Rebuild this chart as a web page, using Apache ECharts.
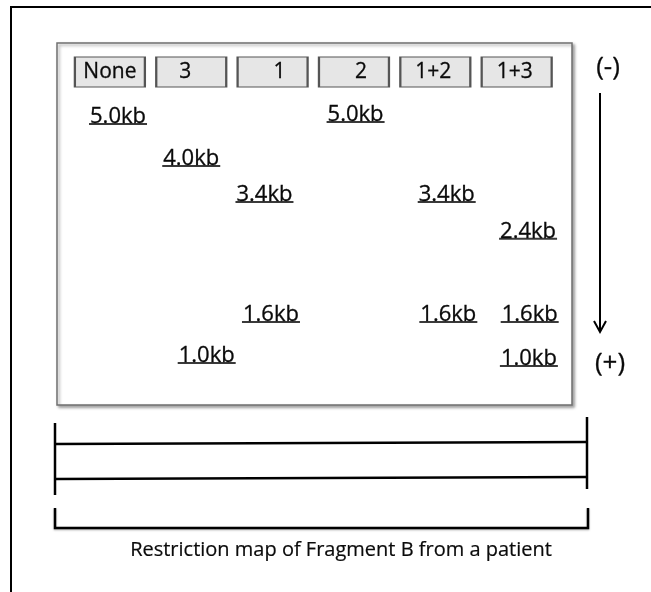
<!DOCTYPE html>
<html>
<head>
<meta charset="utf-8">
<script src="https://cdn.jsdelivr.net/npm/echarts@6/dist/echarts.min.js"></script>
<style>
html,body{margin:0;padding:0;background:#fff;}
#chart{width:651px;height:592px;}
</style>
</head>
<body>
<div id="chart"></div>
<script>
// ---- data ----
const lanes = ['None', '3', '1', '2', '1+2', '1+3'];
const lanePositions = [0, 1, 2, 3, 4, 5];
const wellDepth = 8.0; // migration units (0-100 gel length)
const bandSizes = ['5.0kb', '5.0kb', '4.0kb', '3.4kb', '3.4kb', '2.4kb', '1.6kb', '1.6kb', '1.6kb', '1.0kb', '1.0kb'];
const bandLanePos = [0.10, 3.02, 1.00, 1.90, 4.14, 5.14, 1.98, 4.16, 5.16, 1.19, 5.15];
const bandMigration = [22.4, 21.8, 34.0, 43.9, 43.9, 54.1, 77.1, 77.1, 77.1, 88.4, 89.2];
const caption = 'Restriction map of Fragment B from a patient';
const poleTop = '(-)';
const poleBottom = '(+)';

// ---- styling ----
const FONT = '"Open Sans", sans-serif';
const laneLabelNudge = [0, -6, 7, 7, -2, -2];
const INK = '#0a0a0a';

const chart = echarts.init(document.getElementById('chart'), null, {renderer: 'canvas'});

const laneData = lanes.map((name, i) => ({
  value: [lanePositions[i], wellDepth],
  name: name,
  label: {offset: [laneLabelNudge[i], 0]}
}));

const bandData = bandSizes.map((s, i) => ({
  value: [bandLanePos[i], bandMigration[i]],
  name: s
}));

const option = {
  backgroundColor: '#fff',
  animation: false,
  grid: {
    left: 57, top: 43, width: 515, height: 362,
    show: true,
    backgroundColor: '#fff',
    borderColor: '#707070',
    borderWidth: 1.5,
    shadowColor: 'rgba(0,0,0,0.35)',
    shadowBlur: 3,
    shadowOffsetX: 2,
    shadowOffsetY: 2
  },
  xAxis: {
    type: 'value', min: -0.65, max: 5.68,
    axisLine: {show: false}, axisTick: {show: false},
    axisLabel: {show: false}, splitLine: {show: false}
  },
  yAxis: {
    type: 'value', min: 0, max: 100, inverse: true,
    axisLine: {show: false}, axisTick: {show: false},
    axisLabel: {show: false}, splitLine: {show: false}
  },
  series: [
    {
      type: 'scatter',
      data: laneData,
      symbol: 'rect',
      symbolSize: [70, 30],
      itemStyle: {color: '#e6e6e6', borderColor: '#555', borderWidth: 1.5, opacity: 1},
      label: {
        show: true, position: 'inside',
        formatter: p => p.name,
        fontFamily: FONT, fontSize: 21, color: INK,
        textBorderColor: INK, textBorderWidth: 0.3
      },
      silent: true
    },
    {
      type: 'scatter',
      data: bandData,
      symbol: 'rect',
      symbolSize: [58, 2],
      itemStyle: {color: '#3a3a3a', opacity: 1},
      label: {
        show: true, position: 'top', distance: -4.5,
        formatter: p => p.name,
        fontFamily: FONT, fontSize: 22, color: INK,
        textBorderColor: INK, textBorderWidth: 0.3
      },
      silent: true
    }
  ],
  graphic: [
    // outer frame
    {type: 'rect', shape: {x: 11, y: 7, width: 700, height: 700},
     style: {fill: null, stroke: '#000', lineWidth: 2}, silent: true},
    // electrode labels
    {type: 'text', x: 608, y: 68, style: {text: poleTop, font: '26px ' + FONT, fill: INK, stroke: INK, lineWidth: 0.3, align: 'center', verticalAlign: 'middle'}},
    {type: 'text', x: 610, y: 364, style: {text: poleBottom, font: '26px ' + FONT, fill: INK, stroke: INK, lineWidth: 0.3, align: 'center', verticalAlign: 'middle'}},
    // migration arrow
    {type: 'line', shape: {x1: 600, y1: 93, x2: 600, y2: 331}, style: {stroke: '#000', lineWidth: 2}},
    {type: 'polyline', shape: {points: [[594, 321], [600, 332], [606, 321]]}, style: {stroke: '#000', lineWidth: 2, fill: null}},
    // restriction map
    {type: 'line', shape: {x1: 55, y1: 423, x2: 55, y2: 495}, style: {stroke: '#000', lineWidth: 2.5}},
    {type: 'line', shape: {x1: 587, y1: 417, x2: 587, y2: 489}, style: {stroke: '#000', lineWidth: 2.5}},
    {type: 'line', shape: {x1: 55, y1: 444, x2: 587, y2: 442}, style: {stroke: '#000', lineWidth: 2.3}},
    {type: 'line', shape: {x1: 55, y1: 479, x2: 587, y2: 477}, style: {stroke: '#000', lineWidth: 2.3}},
    {type: 'polyline', shape: {points: [[55, 508], [55, 528], [588, 528], [588, 508]]},
     style: {stroke: '#000', lineWidth: 2.5, fill: null, shadowColor: 'rgba(0,0,0,0.3)', shadowBlur: 2, shadowOffsetY: 1}},
    {type: 'text', x: 341, y: 550, style: {text: caption, font: '20px ' + FONT, fill: INK, stroke: INK, lineWidth: 0.2, align: 'center', verticalAlign: 'middle'}}
  ]
};
chart.setOption(option);
</script>
</body>
</html>
